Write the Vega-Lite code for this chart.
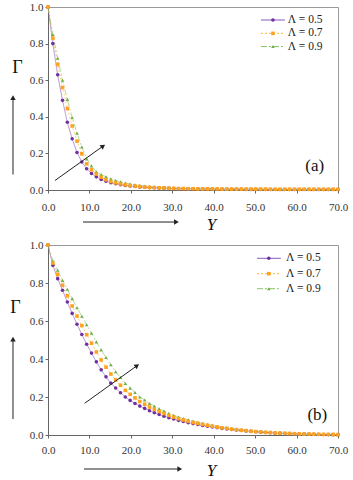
{
"$schema": "https://vega.github.io/schema/vega-lite/v6.json",
"background": "white",
"padding": {"left": 9, "top": 0, "right": 2, "bottom": 2},
"bounds": "flush",
"spacing": 55,
"config": {
  "view": {"stroke": "#999999", "strokeWidth": 1},
  "font": "Liberation Serif",
  "axis": {"labelFont": "Liberation Serif", "labelFontSize": 11, "labelColor": "#333333", "domainColor": "#666666", "tickColor": "#666666", "grid": false, "titleFont": "Liberation Serif", "titleFontWeight": "normal", "titleColor": "#111111", "tickSize": 3, "labelOverlap": false, "labelFlush": false}
},
"datasets": {
"A": [
{"Y":0,"s5":1,"s7":1,"s9":1},
{"Y":1.167,"s5":0.800,"s7":0.830,"s9":0.850},
{"Y":2.333,"s5":0.630,"s7":0.686,"s9":0.720},
{"Y":3.5,"s5":0.490,"s7":0.560,"s9":0.600},
{"Y":4.667,"s5":0.370,"s7":0.445,"s9":0.495},
{"Y":5.833,"s5":0.280,"s7":0.350,"s9":0.395},
{"Y":7,"s5":0.205,"s7":0.267,"s9":0.310},
{"Y":8.167,"s5":0.153,"s7":0.198,"s9":0.235},
{"Y":9.333,"s5":0.116,"s7":0.143,"s9":0.170},
{"Y":10.5,"s5":0.090,"s7":0.110,"s9":0.132},
{"Y":11.667,"s5":0.072,"s7":0.087,"s9":0.100},
{"Y":12.833,"s5":0.058,"s7":0.070,"s9":0.085},
{"Y":14,"s5":0.048,"s7":0.056,"s9":0.072},
{"Y":15.167,"s5":0.040,"s7":0.046,"s9":0.061},
{"Y":16.333,"s5":0.034,"s7":0.039,"s9":0.052},
{"Y":17.5,"s5":0.029,"s7":0.033,"s9":0.045},
{"Y":18.667,"s5":0.025,"s7":0.028,"s9":0.038},
{"Y":19.833,"s5":0.022,"s7":0.024,"s9":0.033},
{"Y":21,"s5":0.019,"s7":0.021,"s9":0.029},
{"Y":22.167,"s5":0.017,"s7":0.018,"s9":0.025},
{"Y":23.333,"s5":0.015,"s7":0.016,"s9":0.022},
{"Y":24.5,"s5":0.013,"s7":0.014,"s9":0.019},
{"Y":25.667,"s5":0.012,"s7":0.013,"s9":0.017},
{"Y":26.833,"s5":0.011,"s7":0.012,"s9":0.015},
{"Y":28,"s5":0.010,"s7":0.011,"s9":0.013},
{"Y":29.167,"s5":0.009,"s7":0.010,"s9":0.012},
{"Y":30.333,"s5":0.008,"s7":0.009,"s9":0.011},
{"Y":31.5,"s5":0.007,"s7":0.008,"s9":0.010},
{"Y":32.667,"s5":0.007,"s7":0.008,"s9":0.009},
{"Y":33.833,"s5":0.006,"s7":0.007,"s9":0.008},
{"Y":35,"s5":0.006,"s7":0.007,"s9":0.008},
{"Y":36.167,"s5":0.005,"s7":0.006,"s9":0.007},
{"Y":37.333,"s5":0.005,"s7":0.006,"s9":0.007},
{"Y":38.5,"s5":0.005,"s7":0.006,"s9":0.007},
{"Y":39.667,"s5":0.005,"s7":0.006,"s9":0.007},
{"Y":40.833,"s5":0.004,"s7":0.006,"s9":0.007},
{"Y":42,"s5":0.004,"s7":0.005,"s9":0.006},
{"Y":43.167,"s5":0.004,"s7":0.005,"s9":0.006},
{"Y":44.333,"s5":0.004,"s7":0.005,"s9":0.006},
{"Y":45.5,"s5":0.004,"s7":0.005,"s9":0.006},
{"Y":46.667,"s5":0.004,"s7":0.005,"s9":0.006},
{"Y":47.833,"s5":0.003,"s7":0.005,"s9":0.006},
{"Y":49,"s5":0.003,"s7":0.005,"s9":0.006},
{"Y":50.167,"s5":0.003,"s7":0.005,"s9":0.006},
{"Y":51.333,"s5":0.003,"s7":0.005,"s9":0.006},
{"Y":52.5,"s5":0.003,"s7":0.005,"s9":0.006},
{"Y":53.667,"s5":0.003,"s7":0.004,"s9":0.005},
{"Y":54.833,"s5":0.003,"s7":0.004,"s9":0.005},
{"Y":56,"s5":0.003,"s7":0.004,"s9":0.005},
{"Y":57.167,"s5":0.003,"s7":0.004,"s9":0.005},
{"Y":58.333,"s5":0.003,"s7":0.004,"s9":0.005},
{"Y":59.5,"s5":0.003,"s7":0.004,"s9":0.005},
{"Y":60.667,"s5":0.003,"s7":0.004,"s9":0.005},
{"Y":61.833,"s5":0.003,"s7":0.004,"s9":0.005},
{"Y":63,"s5":0.003,"s7":0.004,"s9":0.005},
{"Y":64.167,"s5":0.003,"s7":0.004,"s9":0.005},
{"Y":65.333,"s5":0.003,"s7":0.004,"s9":0.005},
{"Y":66.5,"s5":0.003,"s7":0.004,"s9":0.005},
{"Y":67.667,"s5":0.003,"s7":0.004,"s9":0.005},
{"Y":68.833,"s5":0.003,"s7":0.004,"s9":0.005},
{"Y":70,"s5":0.003,"s7":0.004,"s9":0.005}
],
"B": [
{"Y":0,"s5":1,"s7":1,"s9":1},
{"Y":1.167,"s5":0.893,"s7":0.905,"s9":0.916},
{"Y":2.333,"s5":0.823,"s7":0.845,"s9":0.867},
{"Y":3.5,"s5":0.762,"s7":0.788,"s9":0.814},
{"Y":4.667,"s5":0.700,"s7":0.733,"s9":0.767},
{"Y":5.833,"s5":0.640,"s7":0.679,"s9":0.718},
{"Y":7,"s5":0.583,"s7":0.626,"s9":0.670},
{"Y":8.167,"s5":0.529,"s7":0.576,"s9":0.625},
{"Y":9.333,"s5":0.478,"s7":0.528,"s9":0.580},
{"Y":10.5,"s5":0.431,"s7":0.483,"s9":0.536},
{"Y":11.667,"s5":0.385,"s7":0.437,"s9":0.490},
{"Y":12.833,"s5":0.343,"s7":0.395,"s9":0.448},
{"Y":14,"s5":0.306,"s7":0.357,"s9":0.408},
{"Y":15.167,"s5":0.273,"s7":0.321,"s9":0.370},
{"Y":16.333,"s5":0.247,"s7":0.290,"s9":0.333},
{"Y":17.5,"s5":0.222,"s7":0.262,"s9":0.303},
{"Y":18.667,"s5":0.200,"s7":0.235,"s9":0.271},
{"Y":19.833,"s5":0.182,"s7":0.214,"s9":0.247},
{"Y":21,"s5":0.166,"s7":0.195,"s9":0.224},
{"Y":22.167,"s5":0.152,"s7":0.176,"s9":0.200},
{"Y":23.333,"s5":0.140,"s7":0.162,"s9":0.184},
{"Y":24.5,"s5":0.128,"s7":0.147,"s9":0.166},
{"Y":25.667,"s5":0.117,"s7":0.135,"s9":0.152},
{"Y":26.833,"s5":0.108,"s7":0.124,"s9":0.138},
{"Y":28,"s5":0.099,"s7":0.113,"s9":0.126},
{"Y":29.167,"s5":0.091,"s7":0.103,"s9":0.114},
{"Y":30.333,"s5":0.084,"s7":0.094,"s9":0.103},
{"Y":31.5,"s5":0.077,"s7":0.086,"s9":0.095},
{"Y":32.667,"s5":0.071,"s7":0.079,"s9":0.087},
{"Y":33.833,"s5":0.065,"s7":0.072,"s9":0.080},
{"Y":35,"s5":0.060,"s7":0.066,"s9":0.073},
{"Y":36.167,"s5":0.055,"s7":0.061,"s9":0.067},
{"Y":37.333,"s5":0.050,"s7":0.056,"s9":0.061},
{"Y":38.5,"s5":0.046,"s7":0.051,"s9":0.056},
{"Y":39.667,"s5":0.042,"s7":0.046,"s9":0.051},
{"Y":40.833,"s5":0.039,"s7":0.042,"s9":0.046},
{"Y":42,"s5":0.035,"s7":0.038,"s9":0.042},
{"Y":43.167,"s5":0.032,"s7":0.035,"s9":0.038},
{"Y":44.333,"s5":0.029,"s7":0.031,"s9":0.034},
{"Y":45.5,"s5":0.026,"s7":0.028,"s9":0.031},
{"Y":46.667,"s5":0.024,"s7":0.025,"s9":0.028},
{"Y":47.833,"s5":0.021,"s7":0.023,"s9":0.025},
{"Y":49,"s5":0.019,"s7":0.020,"s9":0.022},
{"Y":50.167,"s5":0.017,"s7":0.018,"s9":0.020},
{"Y":51.333,"s5":0.015,"s7":0.016,"s9":0.018},
{"Y":52.5,"s5":0.013,"s7":0.014,"s9":0.016},
{"Y":53.667,"s5":0.012,"s7":0.013,"s9":0.014},
{"Y":54.833,"s5":0.010,"s7":0.011,"s9":0.012},
{"Y":56,"s5":0.009,"s7":0.010,"s9":0.011},
{"Y":57.167,"s5":0.008,"s7":0.009,"s9":0.010},
{"Y":58.333,"s5":0.007,"s7":0.008,"s9":0.009},
{"Y":59.5,"s5":0.006,"s7":0.007,"s9":0.008},
{"Y":60.667,"s5":0.005,"s7":0.006,"s9":0.007},
{"Y":61.833,"s5":0.005,"s7":0.005,"s9":0.006},
{"Y":63,"s5":0.004,"s7":0.005,"s9":0.005},
{"Y":64.167,"s5":0.004,"s7":0.004,"s9":0.004},
{"Y":65.333,"s5":0.003,"s7":0.004,"s9":0.004},
{"Y":66.5,"s5":0.003,"s7":0.003,"s9":0.003},
{"Y":67.667,"s5":0.002,"s7":0.003,"s9":0.003},
{"Y":68.833,"s5":0.002,"s7":0.003,"s9":0.002},
{"Y":70,"s5":0.002,"s7":0.002,"s9":0.002}
]
},
"resolve": {"scale": {"color": "independent", "strokeDash": "independent"}},
"vconcat": [
{
  "width": 290, "height": 183,
  "layer": [
    {
      "data": {"name": "A"},
      "transform": [{"fold": ["s5", "s7", "s9"], "as": ["series", "G"]}],
      "mark": {"type": "line", "strokeWidth": 1, "opacity": 0.65},
      "encoding": {
        "x": {"field": "Y", "type": "quantitative", "scale": {"domain": [0, 70], "nice": false}, "axis": {"values": [0,10,20,30,40,50,60,70], "tickCount": 8, "format": ".1f", "labelPadding": 8, "labelOverlap": false, "labelFlush": false, "title": "Y", "titleFontStyle": "italic", "titleFontSize": 17, "titleX": 163, "titleY": 34, "titleAlign": "center", "titleBaseline": "middle"}},
        "y": {"field": "G", "type": "quantitative", "scale": {"domain": [0, 1], "nice": false}, "axis": {"values": [0,0.2,0.4,0.6,0.8,1], "tickCount": 6, "format": ".1f", "labelPadding": 2, "labelOverlap": false, "labelFlush": false, "title": "Γ", "titleAngle": 0, "titleFontSize": 18, "titleX": -31, "titleY": 60, "titleAlign": "center", "titleBaseline": "middle"}},
        "color": {"field": "series", "type": "nominal", "scale": {"domain": ["s5", "s7", "s9"], "range": ["#8A5BBE", "#FFB52E", "#8CC46A"]}, "legend": null},
        "strokeDash": {"field": "series", "type": "nominal", "scale": {"domain": ["s5", "s7", "s9"], "range": [[1,0],[2,2],[6,2,2,2]]}, "legend": null}
      }
    },
    {
      "data": {"name": "A"},
      "transform": [{"fold": ["s5"], "as": ["series", "G"]}],
      "mark": {"type": "point", "shape": "circle", "filled": true, "size": 13, "opacity": 1, "color": "#7030A0"},
      "encoding": {"x": {"field": "Y", "type": "quantitative"}, "y": {"field": "G", "type": "quantitative"}}
    },
    {
      "data": {"name": "A"},
      "transform": [{"fold": ["s9"], "as": ["series", "G"]}],
      "mark": {"type": "point", "shape": "triangle-up", "filled": true, "size": 13, "opacity": 1, "color": "#70AD47"},
      "encoding": {"x": {"field": "Y", "type": "quantitative"}, "y": {"field": "G", "type": "quantitative"}}
    },
    {
      "data": {"name": "A"},
      "transform": [{"fold": ["s7"], "as": ["series", "G"]}],
      "mark": {"type": "point", "shape": "square", "filled": true, "size": 13, "opacity": 1, "color": "#FFA21F"},
      "encoding": {"x": {"field": "Y", "type": "quantitative"}, "y": {"field": "G", "type": "quantitative"}}
    },
    {"data": {"values": [{}]}, "mark": {"type": "rule", "color": "#8A5BBE", "strokeWidth": 1},
      "encoding": {"x": {"datum": 51.4}, "x2": {"datum": 57.2}, "y": {"datum": 0.929}}},
    {"data": {"values": [{}]}, "mark": {"type": "point", "shape": "circle", "filled": true, "size": 13, "opacity": 1, "color": "#7030A0"},
      "encoding": {"x": {"datum": 54.3}, "y": {"datum": 0.929}}},
    {"data": {"values": [{}]}, "mark": {"type": "text", "text": "Λ = 0.5", "font": "Liberation Serif", "fontSize": 11.5, "color": "#222222", "align": "left", "baseline": "middle"},
      "encoding": {"x": {"datum": 57.9}, "y": {"datum": 0.929}}},
    {"data": {"values": [{}]}, "mark": {"type": "rule", "color": "#FFB52E", "strokeWidth": 1, "strokeDash": [2,2]},
      "encoding": {"x": {"datum": 51.4}, "x2": {"datum": 57.2}, "y": {"datum": 0.856}}},
    {"data": {"values": [{}]}, "mark": {"type": "point", "shape": "square", "filled": true, "size": 13, "opacity": 1, "color": "#FFA21F"},
      "encoding": {"x": {"datum": 54.3}, "y": {"datum": 0.856}}},
    {"data": {"values": [{}]}, "mark": {"type": "text", "text": "Λ = 0.7", "font": "Liberation Serif", "fontSize": 11.5, "color": "#222222", "align": "left", "baseline": "middle"},
      "encoding": {"x": {"datum": 57.9}, "y": {"datum": 0.856}}},
    {"data": {"values": [{}]}, "mark": {"type": "rule", "color": "#8CC46A", "strokeWidth": 1, "strokeDash": [6,2,2,2]},
      "encoding": {"x": {"datum": 51.4}, "x2": {"datum": 57.2}, "y": {"datum": 0.784}}},
    {"data": {"values": [{}]}, "mark": {"type": "point", "shape": "triangle-up", "filled": true, "size": 13, "opacity": 1, "color": "#70AD47"},
      "encoding": {"x": {"datum": 54.3}, "y": {"datum": 0.784}}},
    {"data": {"values": [{}]}, "mark": {"type": "text", "text": "Λ = 0.9", "font": "Liberation Serif", "fontSize": 11.5, "color": "#222222", "align": "left", "baseline": "middle"},
      "encoding": {"x": {"datum": 57.9}, "y": {"datum": 0.784}}},
    {"data": {"values": [{}]}, "mark": {"type": "rule", "color": "#222222", "strokeWidth": 1},
      "encoding": {"x": {"datum": 1.7}, "y": {"datum": 0.052}, "x2": {"datum": 13.3}, "y2": {"datum": 0.24}}},
    {"data": {"values": [{}]}, "mark": {"type": "point", "shape": "triangle-up", "filled": true, "color": "#222222", "size": 30, "angle": 55, "opacity": 1},
      "encoding": {"x": {"datum": 13.3}, "y": {"datum": 0.24}}},
    {"data": {"values": [{}]}, "mark": {"type": "rule", "color": "#222222", "strokeWidth": 1},
      "encoding": {"x": {"datum": -8.45}, "y": {"datum": 0.085}, "y2": {"datum": 0.5}}},
    {"data": {"values": [{}]}, "mark": {"type": "point", "shape": "triangle-up", "filled": true, "color": "#222222", "size": 30, "opacity": 1},
      "encoding": {"x": {"datum": -8.45}, "y": {"datum": 0.505}}},
    {"data": {"values": [{}]}, "mark": {"type": "rule", "color": "#222222", "strokeWidth": 1},
      "encoding": {"x": {"datum": 8.45}, "x2": {"datum": 30.8}, "y": {"datum": -0.175}}},
    {"data": {"values": [{}]}, "mark": {"type": "point", "shape": "triangle-right", "filled": true, "color": "#222222", "size": 30, "opacity": 1},
      "encoding": {"x": {"datum": 31.0}, "y": {"datum": -0.175}}},
    {"data": {"values": [{}]}, "mark": {"type": "text", "text": "(a)", "font": "Liberation Serif", "fontSize": 17, "color": "#111111", "align": "center", "baseline": "middle"},
      "encoding": {"x": {"datum": 64.4}, "y": {"datum": 0.132}}}
  ]
},
{
  "width": 290, "height": 190,
  "layer": [
    {
      "data": {"name": "B"},
      "transform": [{"fold": ["s5", "s7", "s9"], "as": ["series", "G"]}],
      "mark": {"type": "line", "strokeWidth": 1, "opacity": 0.65},
      "encoding": {
        "x": {"field": "Y", "type": "quantitative", "scale": {"domain": [0, 70], "nice": false}, "axis": {"values": [0,10,20,30,40,50,60,70], "tickCount": 8, "format": ".1f", "labelPadding": 6, "labelOverlap": false, "labelFlush": false, "title": "Y", "titleFontStyle": "italic", "titleFontSize": 17, "titleX": 163, "titleY": 35, "titleAlign": "center", "titleBaseline": "middle"}},
        "y": {"field": "G", "type": "quantitative", "scale": {"domain": [0, 1], "nice": false}, "axis": {"values": [0,0.2,0.4,0.6,0.8,1], "tickCount": 6, "format": ".1f", "labelPadding": 2, "labelOverlap": false, "labelFlush": false, "title": "Γ", "titleAngle": 0, "titleFontSize": 18, "titleX": -33, "titleY": 62, "titleAlign": "center", "titleBaseline": "middle"}},
        "color": {"field": "series", "type": "nominal", "scale": {"domain": ["s5", "s7", "s9"], "range": ["#8A5BBE", "#FFB52E", "#8CC46A"]}, "legend": null},
        "strokeDash": {"field": "series", "type": "nominal", "scale": {"domain": ["s5", "s7", "s9"], "range": [[1,0],[2,2],[6,2,2,2]]}, "legend": null}
      }
    },
    {
      "data": {"name": "B"},
      "transform": [{"fold": ["s5"], "as": ["series", "G"]}],
      "mark": {"type": "point", "shape": "circle", "filled": true, "size": 13, "opacity": 1, "color": "#7030A0"},
      "encoding": {"x": {"field": "Y", "type": "quantitative"}, "y": {"field": "G", "type": "quantitative"}}
    },
    {
      "data": {"name": "B"},
      "transform": [{"fold": ["s9"], "as": ["series", "G"]}],
      "mark": {"type": "point", "shape": "triangle-up", "filled": true, "size": 13, "opacity": 1, "color": "#70AD47"},
      "encoding": {"x": {"field": "Y", "type": "quantitative"}, "y": {"field": "G", "type": "quantitative"}}
    },
    {
      "data": {"name": "B"},
      "transform": [{"fold": ["s7"], "as": ["series", "G"]}],
      "mark": {"type": "point", "shape": "square", "filled": true, "size": 13, "opacity": 1, "color": "#FFA21F"},
      "encoding": {"x": {"field": "Y", "type": "quantitative"}, "y": {"field": "G", "type": "quantitative"}}
    },
    {"data": {"values": [{}]}, "mark": {"type": "rule", "color": "#8A5BBE", "strokeWidth": 1},
      "encoding": {"x": {"datum": 50.45}, "x2": {"datum": 56.2}, "y": {"datum": 0.930}}},
    {"data": {"values": [{}]}, "mark": {"type": "point", "shape": "circle", "filled": true, "size": 13, "opacity": 1, "color": "#7030A0"},
      "encoding": {"x": {"datum": 53.3}, "y": {"datum": 0.930}}},
    {"data": {"values": [{}]}, "mark": {"type": "text", "text": "Λ = 0.5", "font": "Liberation Serif", "fontSize": 11.5, "color": "#222222", "align": "left", "baseline": "middle"},
      "encoding": {"x": {"datum": 57.45}, "y": {"datum": 0.930}}},
    {"data": {"values": [{}]}, "mark": {"type": "rule", "color": "#FFB52E", "strokeWidth": 1, "strokeDash": [2,2]},
      "encoding": {"x": {"datum": 50.45}, "x2": {"datum": 56.2}, "y": {"datum": 0.849}}},
    {"data": {"values": [{}]}, "mark": {"type": "point", "shape": "square", "filled": true, "size": 13, "opacity": 1, "color": "#FFA21F"},
      "encoding": {"x": {"datum": 53.3}, "y": {"datum": 0.849}}},
    {"data": {"values": [{}]}, "mark": {"type": "text", "text": "Λ = 0.7", "font": "Liberation Serif", "fontSize": 11.5, "color": "#222222", "align": "left", "baseline": "middle"},
      "encoding": {"x": {"datum": 57.45}, "y": {"datum": 0.849}}},
    {"data": {"values": [{}]}, "mark": {"type": "rule", "color": "#8CC46A", "strokeWidth": 1, "strokeDash": [6,2,2,2]},
      "encoding": {"x": {"datum": 50.45}, "x2": {"datum": 56.2}, "y": {"datum": 0.770}}},
    {"data": {"values": [{}]}, "mark": {"type": "point", "shape": "triangle-up", "filled": true, "size": 13, "opacity": 1, "color": "#70AD47"},
      "encoding": {"x": {"datum": 53.3}, "y": {"datum": 0.770}}},
    {"data": {"values": [{}]}, "mark": {"type": "text", "text": "Λ = 0.9", "font": "Liberation Serif", "fontSize": 11.5, "color": "#222222", "align": "left", "baseline": "middle"},
      "encoding": {"x": {"datum": 57.45}, "y": {"datum": 0.770}}},
    {"data": {"values": [{}]}, "mark": {"type": "rule", "color": "#222222", "strokeWidth": 1},
      "encoding": {"x": {"datum": 8.85}, "y": {"datum": 0.167}, "x2": {"datum": 21.5}, "y2": {"datum": 0.365}}},
    {"data": {"values": [{}]}, "mark": {"type": "point", "shape": "triangle-up", "filled": true, "color": "#222222", "size": 30, "angle": 55, "opacity": 1},
      "encoding": {"x": {"datum": 21.5}, "y": {"datum": 0.365}}},
    {"data": {"values": [{}]}, "mark": {"type": "rule", "color": "#222222", "strokeWidth": 1},
      "encoding": {"x": {"datum": -8.45}, "y": {"datum": 0.084}, "y2": {"datum": 0.5}}},
    {"data": {"values": [{}]}, "mark": {"type": "point", "shape": "triangle-up", "filled": true, "color": "#222222", "size": 30, "opacity": 1},
      "encoding": {"x": {"datum": -8.45}, "y": {"datum": 0.505}}},
    {"data": {"values": [{}]}, "mark": {"type": "rule", "color": "#222222", "strokeWidth": 1},
      "encoding": {"x": {"datum": 8.7}, "x2": {"datum": 31.6}, "y": {"datum": -0.179}}},
    {"data": {"values": [{}]}, "mark": {"type": "point", "shape": "triangle-right", "filled": true, "color": "#222222", "size": 30, "opacity": 1},
      "encoding": {"x": {"datum": 31.8}, "y": {"datum": -0.179}}},
    {"data": {"values": [{}]}, "mark": {"type": "text", "text": "(b)", "font": "Liberation Serif", "fontSize": 17, "color": "#111111", "align": "center", "baseline": "middle"},
      "encoding": {"x": {"datum": 65.0}, "y": {"datum": 0.106}}}
  ]
}
]
}
